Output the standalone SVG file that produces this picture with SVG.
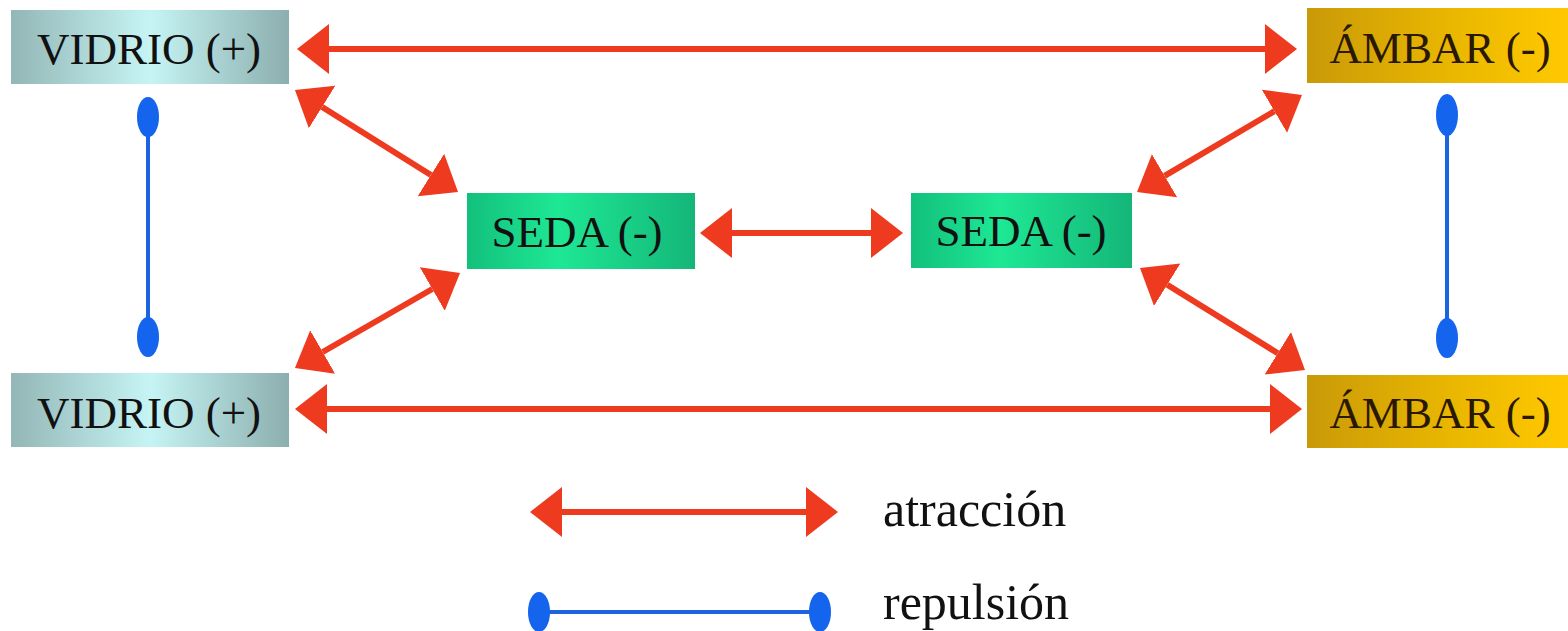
<svg xmlns="http://www.w3.org/2000/svg" width="1568" height="631" viewBox="0 0 1568 631">
<style>
.lbl{font-family:"Liberation Serif","Times New Roman",serif;font-size:45px;fill:#111;text-anchor:middle}
.leg{font-family:"Liberation Serif","Times New Roman",serif;font-size:50px;fill:#111}
.att{stroke:#ee3a1e;stroke-width:6;fill:none;marker-start:url(#ah);marker-end:url(#ah)}
.rep{stroke:#1a64e0;stroke-width:4;fill:none}
.dot{fill:#1464ee}
</style>
<defs>
<linearGradient id="gV" x1="0" y1="0" x2="1" y2="0">
<stop offset="0" stop-color="#93b6b6"/><stop offset="0.5" stop-color="#c6f4f4"/><stop offset="1" stop-color="#8caeae"/>
</linearGradient>
<linearGradient id="gA" x1="0" y1="0" x2="1" y2="0">
<stop offset="0" stop-color="#c99a08"/><stop offset="0.6" stop-color="#ecb900"/><stop offset="1" stop-color="#ffc800"/>
</linearGradient>
<linearGradient id="gS" x1="0" y1="0" x2="1" y2="0">
<stop offset="0" stop-color="#12c07c"/><stop offset="0.4" stop-color="#1ee894"/><stop offset="1" stop-color="#14b678"/>
</linearGradient>
<marker id="ah" markerUnits="userSpaceOnUse" viewBox="0 -26 34 52" markerWidth="34" markerHeight="52" refX="0" refY="0" orient="auto-start-reverse">
<path d="M0,-25 L32,0 L0,25 Z" fill="#ee3a1e"/>
</marker>
</defs>
<g id="connectors">
<line class="att" x1="329" y1="49" x2="1265" y2="49"/>
<line class="att" x1="327" y1="409" x2="1270" y2="409"/>
<line class="att" x1="732" y1="233" x2="871" y2="233"/>
<line class="att" x1="322.1" y1="107" x2="430.9" y2="175"/>
<line class="att" x1="1274.4" y1="111.2" x2="1164.6" y2="175.8"/>
<line class="att" x1="432.3" y1="289" x2="322.7" y2="352"/>
<line class="att" x1="1167.2" y1="284.8" x2="1277.8" y2="353.2"/>
<line class="rep" x1="148" y1="118" x2="148" y2="337"/>
<ellipse class="dot" cx="148" cy="117" rx="11" ry="20"/>
<ellipse class="dot" cx="148" cy="337" rx="11" ry="20"/>
<line class="rep" x1="1447" y1="116" x2="1447" y2="338"/>
<ellipse class="dot" cx="1447" cy="115" rx="11" ry="21"/>
<ellipse class="dot" cx="1447" cy="338" rx="11" ry="20"/>
</g>
<g id="vidrio-top"><rect x="11" y="10" width="278" height="74" fill="url(#gV)"/><text class="lbl" x="149" y="64">VIDRIO (+)</text></g>
<g id="vidrio-bottom"><rect x="11" y="373" width="278" height="74" fill="url(#gV)"/><text class="lbl" x="149" y="428">VIDRIO (+)</text></g>
<g id="ambar-top"><rect x="1307" y="8" width="261" height="75" fill="url(#gA)"/><text class="lbl" x="1440" y="63" style="fill:#2a1800">ÁMBAR (-)</text></g>
<g id="ambar-bottom"><rect x="1307" y="375" width="261" height="73" fill="url(#gA)"/><text class="lbl" x="1440" y="428" style="fill:#2a1800">ÁMBAR (-)</text></g>
<g id="seda-left"><rect x="467" y="193" width="228" height="76" fill="url(#gS)"/><text class="lbl" x="577" y="247">SEDA (-)</text></g>
<g id="seda-right"><rect x="911" y="193" width="221" height="75" fill="url(#gS)"/><text class="lbl" x="1021" y="246">SEDA (-)</text></g>
<g id="legend">
<line class="att" x1="562" y1="512" x2="806" y2="512"/>
<text class="leg" x="883" y="526">atracción</text>
<line class="rep" x1="539" y1="612" x2="820" y2="612"/>
<ellipse class="dot" cx="539" cy="612" rx="11" ry="20"/>
<ellipse class="dot" cx="820" cy="612" rx="11" ry="20"/>
<text class="leg" x="883" y="619">repulsión</text>
</g>
</svg>
